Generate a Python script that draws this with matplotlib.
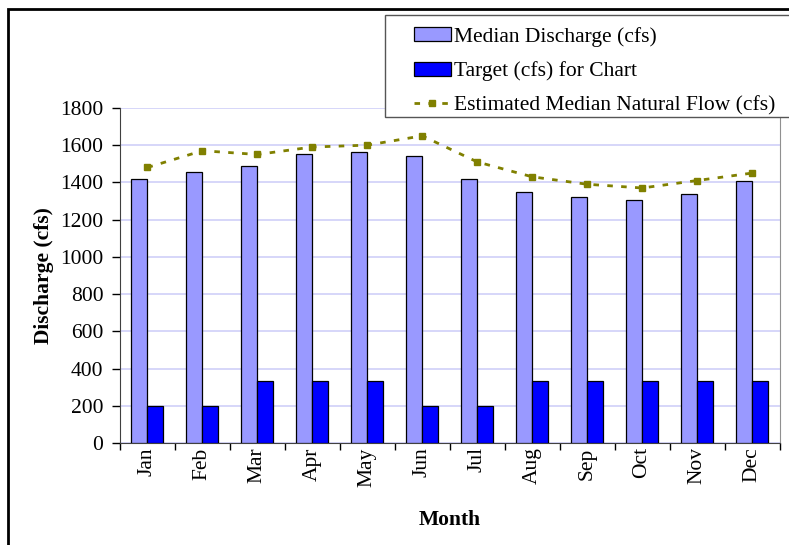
import numpy as np
import matplotlib.pyplot as plt
from matplotlib.patches import Rectangle

# Monthly values (cfs)
months = ["Jan", "Feb", "Mar", "Apr", "May", "Jun",
          "Jul", "Aug", "Sep", "Oct", "Nov", "Dec"]
median_discharge = [1420, 1455, 1490, 1550, 1565, 1540,
                    1420, 1350, 1320, 1305, 1340, 1410]
target_flow = [200, 200, 335, 335, 335, 200,
               200, 335, 335, 335, 335, 335]
natural_flow = [1480, 1570, 1550, 1590, 1600, 1650,
                1510, 1430, 1390, 1370, 1410, 1450]

plt.rcParams["font.family"] = ["Liberation Serif", "DejaVu Serif"]
FS = 15.5

fig = plt.figure(figsize=(7.89, 5.45), dpi=100)
ax = fig.add_axes([0.152, 0.187, 0.836, 0.615])

x = np.arange(len(months))
w = 0.29
b1 = ax.bar(x - w / 2, median_discharge, w, color="#9999ff", edgecolor="black",
            linewidth=0.9, label="Median Discharge (cfs)", zorder=3)
b2 = ax.bar(x + w / 2, target_flow, w, color="#0000ff", edgecolor="black",
            linewidth=0.9, label="Target (cfs) for Chart", zorder=3)
ln, = ax.plot(x, natural_flow, color="#808000", linestyle=(0, (2, 3)),
              linewidth=2, marker="s", markersize=5,
              label="Estimated Median Natural Flow (cfs)", zorder=4)

ax.set_xlim(-0.5, len(months) - 0.5)
ax.set_ylim(0, 1800)
ax.set_yticks(range(0, 1801, 200))
ax.tick_params(axis="y", labelsize=FS, direction="out", length=6, width=1, pad=6)
ax.set_xticks(x)
ax.set_xticklabels(months, rotation=90, fontsize=FS)
ax.set_xticks(np.arange(-0.5, len(months), 1), minor=True)
ax.tick_params(axis="x", which="major", length=0, pad=3)
ax.tick_params(axis="x", which="minor", length=5, width=1, direction="out")

ax.grid(axis="y", color="#d0d0f8", linewidth=1.2, zorder=0)
ax.set_axisbelow(True)
ax.spines["top"].set_visible(False)
ax.spines["right"].set_color("#909090")
ax.spines["left"].set_color("#404040")
ax.spines["bottom"].set_color("#404040")

ax.set_ylabel("Discharge (cfs)", fontsize=FS, fontweight="bold", labelpad=4)
ax.set_xlabel("Month", fontsize=FS, fontweight="bold", labelpad=17)

# legend box runs off the right edge of the chart
fig.patches.append(Rectangle((385 / 789, 1 - 117 / 545), 0.6, 102 / 545,
                             transform=fig.transFigure, facecolor="white",
                             edgecolor="#555555", linewidth=1, zorder=5))
leg = fig.legend([b1, b2, ln], [b1.get_label(), b2.get_label(), ln.get_label()],
                 loc="upper left", bbox_to_anchor=(414 / 789, 1 - 27 / 545),
                 fontsize=FS, frameon=False, handlelength=1.7,
                 handleheight=0.6, borderpad=0, labelspacing=0.68,
                 handletextpad=0.15, borderaxespad=0)
leg.set_zorder(6)

# outer chart border
fig.patches.append(Rectangle((8 / 789, -0.1), 1.2, 1 - 9 / 545 + 0.1,
                             transform=fig.transFigure, fill=False,
                             edgecolor="black", linewidth=2, zorder=7))

fig.savefig("out.png", dpi=100)
